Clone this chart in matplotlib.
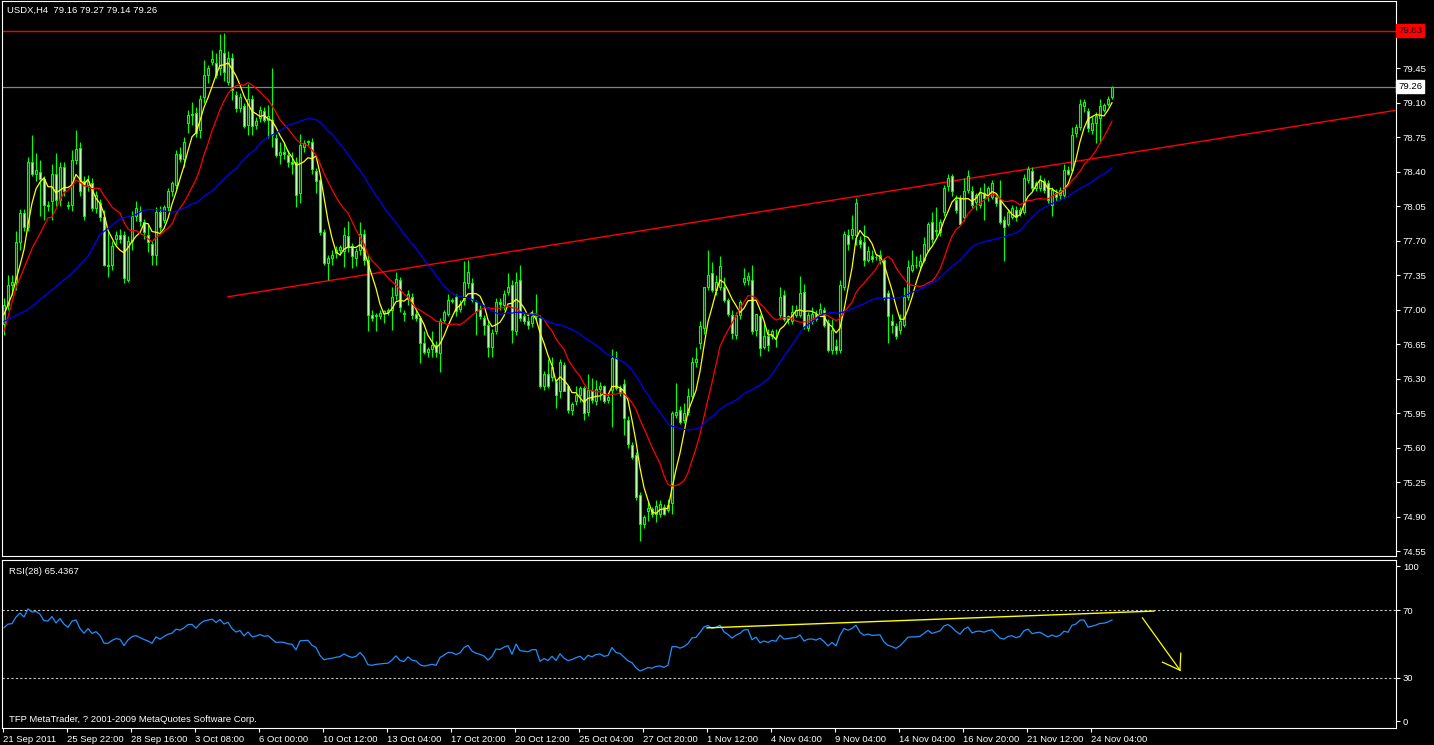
import matplotlib
matplotlib.use("Agg")
import matplotlib.pyplot as plt
import numpy as np
import pandas as pd

# ---------------- data (USDX H4) ----------------
opens = [76.85,77.05,77.25,77.28,77.69,77.98,77.84,78.50,78.38,78.40,
         78.32,78.06,78.10,78.37,78.11,78.45,78.06,78.06,78.52,78.64,
         78.30,78.26,78.28,78.03,78.08,77.94,77.45,77.45,77.72,77.76,
         77.76,77.30,77.70,77.95,78.00,77.89,77.76,77.67,77.55,77.99,
         77.91,78.04,78.20,78.26,78.58,78.53,78.89,78.97,78.99,78.82,
         79.16,79.38,79.51,79.50,79.45,79.60,79.31,79.55,79.18,79.04,
         79.06,78.87,79.14,78.87,78.94,79.01,78.92,78.92,78.74,78.57,
         78.60,78.57,78.50,78.50,78.18,78.65,78.70,78.70,78.41,78.31,
         77.79,77.47,77.52,77.57,77.60,77.59,77.75,77.64,77.52,77.60,
         77.77,77.50,76.95,76.93,76.93,76.97,76.98,77.00,77.15,77.30,
         76.96,77.11,77.13,76.96,76.91,76.66,76.57,76.60,76.64,76.56,
         76.89,76.96,77.10,77.13,77.01,77.10,77.27,77.27,77.08,77.01,
         76.91,76.84,76.62,76.78,77.08,77.05,77.18,77.25,76.78,77.30,
         76.93,76.88,76.86,76.94,76.91,76.22,76.35,76.32,76.27,76.17,
         76.44,76.22,75.98,76.07,76.13,76.20,75.96,76.17,76.07,76.19,
         76.22,76.08,76.18,76.51,76.20,76.25,75.88,75.63,75.53,75.12,
         74.83,74.96,74.98,74.93,74.93,75.00,74.97,75.04,75.93,75.98,
         75.88,75.96,76.12,76.47,76.66,76.81,77.23,77.37,77.20,77.23,
         77.23,77.10,76.95,76.74,76.95,77.28,77.30,77.30,76.79,76.93,
         76.62,76.73,76.73,76.72,76.95,77.15,76.90,76.88,76.95,76.95,
         77.18,76.81,76.88,76.96,76.96,77.00,76.86,76.59,76.63,76.59,
         77.23,77.76,77.76,77.76,77.71,77.69,77.50,77.54,77.53,77.50,
         77.50,77.17,76.88,76.83,76.79,76.84,77.13,77.40,77.45,77.44,
         77.50,77.60,77.89,77.80,77.79,77.99,78.25,78.35,78.11,78.13,
         77.94,78.21,78.20,78.09,78.06,78.18,78.16,78.14,78.14,78.11,
         77.91,77.87,77.94,78.01,77.98,77.99,78.31,78.41,78.23,78.23,
         78.30,78.28,78.06,78.18,78.16,78.16,78.42,78.42,78.79,78.85,
         79.06,79.01,78.82,78.89,78.94,79.02,79.09,79.16]
highs = [77.12,77.35,77.35,77.80,78.02,78.02,78.55,78.77,78.59,78.52,
         78.35,78.10,78.48,78.59,78.50,78.50,78.10,78.62,78.82,78.70,
         78.35,78.36,78.33,78.20,78.12,78.01,77.80,77.70,77.80,77.82,
         77.80,77.75,78.00,78.10,78.05,77.92,77.86,77.70,78.04,78.05,
         78.06,78.23,78.30,78.62,78.65,78.75,79.02,79.11,79.05,79.18,
         79.53,79.48,79.63,79.60,79.79,79.80,79.62,79.60,79.22,79.20,
         79.10,79.29,79.18,78.95,79.06,79.05,79.07,79.45,78.78,78.70,
         78.70,78.62,78.60,78.55,78.78,78.72,78.72,78.74,78.44,78.33,
         77.82,77.55,77.60,77.64,77.66,77.84,77.90,77.68,77.62,77.89,
         77.82,77.55,77.00,76.97,77.00,77.00,77.02,77.23,77.38,77.33,
         77.00,77.20,77.17,77.00,76.94,76.78,76.62,76.78,76.68,76.91,
         77.00,77.16,77.12,77.16,77.10,77.49,77.50,77.32,77.10,77.05,
         76.95,76.88,76.80,77.12,77.12,77.20,77.37,77.30,77.38,77.45,
         76.98,76.94,77.00,77.16,76.95,76.38,76.50,76.52,76.30,76.50,
         76.47,76.24,76.06,76.22,76.22,76.22,76.35,76.31,76.29,76.27,
         76.24,76.13,76.60,76.58,76.24,76.30,75.92,75.66,75.56,75.15,
         74.92,75.05,75.00,75.07,75.07,75.03,75.08,75.97,76.26,76.02,
         76.05,76.20,76.52,76.62,76.88,77.23,77.60,77.48,77.35,77.54,
         77.33,77.12,77.00,76.98,77.10,77.42,77.38,77.45,76.96,76.96,
         76.86,76.80,76.80,76.80,77.23,77.20,76.95,77.05,77.05,77.34,
         77.26,76.98,77.03,77.00,77.07,77.03,76.90,76.90,76.70,77.30,
         77.80,77.82,77.96,78.13,77.75,77.86,77.64,77.60,77.56,77.60,
         77.52,77.20,76.96,76.86,76.96,77.23,77.50,77.60,77.54,77.56,
         77.74,77.89,77.99,78.04,77.92,78.26,78.37,78.38,78.16,78.16,
         78.33,78.42,78.25,78.18,78.24,78.28,78.25,78.31,78.18,78.31,
         77.95,78.02,78.06,78.05,78.04,78.38,78.46,78.45,78.30,78.36,
         78.33,78.31,78.24,78.22,78.24,78.48,78.46,78.85,78.88,79.14,
         79.14,79.04,78.96,79.00,79.14,79.10,79.17,79.27]
lows = [76.74,77.00,77.15,77.20,77.60,77.80,77.80,78.35,78.30,77.95,
        77.91,78.00,77.91,78.05,78.05,78.15,78.02,78.00,78.48,78.15,
        77.91,78.20,78.00,77.98,77.90,77.44,77.33,77.40,77.66,77.68,
        77.27,77.28,77.60,77.90,77.85,77.72,77.58,77.45,77.45,77.80,
        77.88,78.00,78.15,78.22,78.50,78.45,78.79,78.87,78.75,78.74,
        79.10,79.30,79.48,79.35,79.38,79.32,79.28,79.13,79.00,79.00,
        78.84,78.77,78.77,78.83,78.90,78.90,78.74,78.65,78.55,78.48,
        78.53,78.45,78.38,78.04,78.08,78.60,78.66,78.38,78.18,77.76,
        77.45,77.30,77.45,77.52,77.55,77.43,77.58,77.42,77.44,77.55,
        77.45,76.78,76.88,76.78,76.90,76.86,76.95,76.79,77.10,76.98,
        76.88,77.05,76.90,76.88,76.46,76.55,76.52,76.52,76.52,76.37,
        76.86,76.93,77.07,76.93,76.98,77.05,77.22,77.08,76.74,76.90,
        76.74,76.52,76.52,76.75,77.00,77.00,77.15,76.66,76.74,76.88,
        76.85,76.80,76.82,76.88,76.20,76.18,76.20,76.28,76.00,76.10,
        76.20,75.95,75.93,76.03,76.06,75.88,75.92,76.05,76.03,76.08,
        76.05,76.05,75.81,76.18,76.12,75.73,75.60,75.48,75.07,74.65,
        74.78,74.86,74.90,74.85,74.90,74.92,74.95,74.93,75.90,75.84,
        75.85,75.93,76.10,76.42,76.60,76.75,77.20,77.18,77.15,77.20,
        77.08,76.94,76.70,76.70,76.90,77.25,77.25,76.75,76.73,76.53,
        76.60,76.58,76.70,76.62,76.90,76.88,76.85,76.85,76.92,76.92,
        76.80,76.78,76.85,76.88,76.94,76.82,76.57,76.55,76.55,76.56,
        77.20,77.60,77.72,77.65,77.62,77.44,77.48,77.48,77.50,77.46,
        77.10,76.66,76.76,76.70,76.75,76.82,77.10,77.38,77.42,77.40,
        77.48,77.58,77.68,77.75,77.75,77.95,78.20,78.15,77.98,77.86,
        77.90,78.18,78.03,78.01,78.03,77.91,78.10,78.12,78.05,77.87,
        77.49,77.85,77.92,77.90,77.95,77.97,78.28,78.20,78.20,78.20,
        78.18,78.08,77.95,78.10,78.12,78.14,78.36,78.40,78.75,78.82,
        79.00,78.80,78.78,78.69,78.69,79.00,79.06,79.14]
closes = [77.05,77.25,77.28,77.69,77.98,77.84,78.50,78.38,78.42,78.32,
          78.06,78.05,78.38,78.11,78.45,78.20,78.05,78.52,78.63,78.20,
          77.95,78.30,78.03,78.16,77.94,77.45,77.44,77.64,77.76,77.72,
          77.32,77.70,77.95,78.03,77.90,77.79,77.69,77.55,77.99,77.84,
          78.04,78.20,78.28,78.58,78.53,78.70,78.97,78.98,78.79,79.14,
          79.38,79.45,79.54,79.38,79.63,79.41,79.55,79.23,79.04,79.16,
          78.86,79.14,78.86,78.91,79.02,78.92,78.96,78.77,78.57,78.60,
          78.58,78.50,78.48,78.16,78.67,78.69,78.70,78.43,78.30,77.79,
          77.47,77.52,77.55,77.60,77.63,77.76,77.63,77.54,77.59,77.77,
          77.50,76.95,76.91,76.95,76.97,76.99,77.00,77.13,77.31,77.03,
          76.96,77.16,76.95,76.91,76.66,76.57,76.60,76.64,76.57,76.88,
          76.98,77.10,77.09,76.99,77.06,77.28,77.38,77.10,76.99,76.93,
          76.84,76.62,76.76,77.08,77.06,77.16,77.23,76.79,77.28,76.91,
          76.88,76.84,76.94,76.95,76.22,76.35,76.22,76.42,76.13,76.47,
          76.17,75.98,76.04,76.13,76.20,75.95,76.18,76.08,76.19,76.22,
          76.07,76.11,76.51,76.20,76.15,75.90,75.64,75.51,75.10,74.83,
          74.90,74.99,74.93,75.01,75.03,74.93,75.02,75.95,75.96,75.86,
          75.95,76.12,76.47,76.50,76.83,77.23,77.35,77.20,77.28,77.44,
          77.10,76.96,76.76,76.95,77.08,77.32,77.34,76.78,76.96,76.61,
          76.73,76.64,76.78,76.72,77.13,76.90,76.93,76.98,77.00,77.17,
          76.83,76.95,76.96,76.90,77.01,76.84,76.59,76.79,76.59,77.25,
          77.77,77.67,77.82,78.08,77.67,77.50,77.59,77.51,77.53,77.55,
          77.13,76.93,76.84,76.73,76.88,77.13,77.43,77.45,77.45,77.49,
          77.67,77.87,77.72,77.80,77.89,78.23,78.33,78.20,78.01,77.87,
          78.20,78.35,78.06,78.16,78.18,78.13,78.23,78.28,78.08,77.89,
          77.84,77.99,78.03,77.94,78.01,78.33,78.43,78.23,78.28,78.31,
          78.21,78.11,78.21,78.14,78.21,78.42,78.38,78.77,78.85,79.09,
          79.11,78.84,78.89,78.96,79.06,79.07,79.14,79.26]

# moving-average lines before enough bars exist
yellow_head_x = [0, 2]
yellow_head_y = [76.95, 77.15]
red_head_x = [0, 3, 5, 7, 9, 11]
red_head_y = [76.78, 77.22, 77.42, 77.62, 77.77, 77.93]
blue_head_x = [0, 6, 12, 17, 21, 24, 29]
blue_head_y = [76.88, 77.00, 77.20, 77.37, 77.54, 77.76, 77.92]

price_ticks = [79.45, 79.10, 78.75, 78.40, 78.05, 77.70, 77.35, 77.00,
               76.65, 76.30, 75.95, 75.60, 75.25, 74.90, 74.55]
time_labels = ["21 Sep 2011", "25 Sep 22:00", "28 Sep 16:00", "3 Oct 08:00",
               "6 Oct 00:00", "10 Oct 12:00", "13 Oct 04:00", "17 Oct 20:00",
               "20 Oct 12:00", "25 Oct 04:00", "27 Oct 20:00", "1 Nov 12:00",
               "4 Nov 04:00", "9 Nov 04:00", "14 Nov 04:00", "16 Nov 20:00",
               "21 Nov 12:00", "24 Nov 04:00"]
resistance_level = 79.83
bid_price = 79.26
trend_pts = ([56, 347.75], [77.13, 79.02])          # drawn red trendline
rsi_trend = ([175.75, 287.5], [59.6, 69.6])         # drawn yellow RSI line
rsi_arrow = ([284.6, 294.0], [65.6, 34.4])
rsi_arrow_head1 = ([289.6, 294.0], [39.2, 34.4])
rsi_arrow_head2 = ([294.2, 294.0], [44.6, 34.4])
rsi_period = 28
rsi_seed_gain, rsi_seed_loss = 0.080, 0.054

# ---------------- figure ----------------
W, H = 1434, 745
FONT = "Liberation Sans"
FS = 6.8
plt.rcParams["font.family"] = [FONT, "DejaVu Sans"]
fig = plt.figure(figsize=(W / 100, H / 100), dpi=100, facecolor="black")


def px_axes(l, t, r, b):
    return fig.add_axes([l / W, 1 - b / H, (r - l) / W, (b - t) / H])


ax = px_axes(2, 1, 1396, 556)
ax2 = px_axes(2, 560, 1396, 728)
for a in (ax, ax2):
    a.set_facecolor("black")
    for s in a.spines.values():
        s.set_color("white")
        s.set_linewidth(0.8)
    a.set_xlim(-0.5, 348)

o = np.array(opens); h = np.array(highs); l = np.array(lows); c = np.array(closes)
idx = np.arange(len(c))
LIME = "#00ff00"

# wicks
ax.vlines(idx, l, h, color=LIME, lw=0.85, zorder=3)
# bodies
bull = c >= o
bot = np.minimum(o, c)
hgt = np.maximum(np.abs(c - o), 0.005)
ax.bar(idx[bull], hgt[bull], bottom=bot[bull], width=0.72, facecolor="#0a3a0a",
       edgecolor=LIME, linewidth=0.8, zorder=4)
ax.bar(idx[~bull], hgt[~bull], bottom=bot[~bull], width=0.72, facecolor="#d8ffc8",
       edgecolor=LIME, linewidth=0.8, zorder=4)

# moving averages
cs = pd.Series(c)
for n, hx, hy, col in [(5, yellow_head_x, yellow_head_y, "#ffff00"),
                       (13, red_head_x, red_head_y, "#ff0000"),
                       (34, blue_head_x, blue_head_y, "#0000ff")]:
    ma = cs.rolling(n).mean().to_numpy()
    xs = list(hx) + list(idx[n - 1:])
    ys = list(hy) + list(ma[n - 1:])
    ax.plot(xs, ys, color=col, lw=0.9, zorder=5)

ax.axhline(resistance_level, color="#ff0000", lw=1.0, zorder=2)
ax.axhline(bid_price, color="#7d8494", lw=0.9, zorder=2)
ax.plot(trend_pts[0], trend_pts[1], color="#ff0000", lw=1.0, zorder=2)

ax.set_ylim(74.501, 79.45 + 67 / 98.6)
ax.yaxis.tick_right()
ax.set_yticks(price_ticks)
ax.set_yticklabels([f"{v:.2f}" for v in price_ticks])
ax.tick_params(axis="y", colors="white", labelsize=FS, length=3, width=0.8, pad=2)
ax.set_xticks([])

# right-side price boxes
ax.text(1.0015, resistance_level, f"{resistance_level:.2f}", transform=ax.get_yaxis_transform(),
        ha="left", va="center", fontsize=FS, color="black",
        bbox=dict(boxstyle="square,pad=0.2", fc="#ff0000", ec="#ff0000"))
ax.text(1.0015, bid_price, f"{bid_price:.2f}", transform=ax.get_yaxis_transform(),
        ha="left", va="center", fontsize=FS, color="black",
        bbox=dict(boxstyle="square,pad=0.2", fc="white", ec="white"))

fig.text(7 / W, 1 - 10.5 / H, "USDX,H4  79.16 79.27 79.14 79.26", color="white",
         fontsize=FS, ha="left", va="center")

# ---------------- RSI ----------------
g, ls = rsi_seed_gain, rsi_seed_loss
rsi = [100 * g / (g + ls)]
for i in range(1, len(c)):
    d = c[i] - c[i - 1]
    g = (g * (rsi_period - 1) + max(d, 0)) / rsi_period
    ls = (ls * (rsi_period - 1) + max(-d, 0)) / rsi_period
    rsi.append(100 * g / (g + ls))
rsi = np.array(rsi)

ax2.plot(idx, rsi, color="#1e90ff", lw=0.9, zorder=4)
for lvl in (70, 30):
    ax2.axhline(lvl, color="#c8c8c8", lw=0.8, ls=(0, (2, 2)), zorder=2)
ax2.plot(rsi_trend[0], rsi_trend[1], color="#ffff00", lw=1.0, zorder=5)
for seg in (rsi_arrow, rsi_arrow_head1, rsi_arrow_head2):
    ax2.plot(seg[0], seg[1], color="#ffff00", lw=0.9, zorder=5)
ax2.set_ylim(0, 100)
ax2.yaxis.tick_right()
ax2.set_yticks([96.4, 70, 30, 4])
ax2.set_yticklabels(["100", "70", "30", "0"])
ax2.tick_params(axis="y", colors="white", labelsize=FS, length=3, width=0.8, pad=2)
ax2.set_xticks([16 * k - 0.25 for k in range(len(time_labels))])
ax2.set_xticklabels(time_labels)
ax2.tick_params(axis="x", colors="white", labelsize=FS, length=3, width=0.8, pad=2)
for t in ax2.get_xticklabels():
    t.set_ha("left")

ax2.text(7 / 1394, 1 - 11 / 168, f"RSI({rsi_period}) 65.4367", transform=ax2.transAxes,
         color="white", fontsize=FS, ha="left", va="center")
ax2.text(7 / 1394, 1 - 159 / 168, "TFP MetaTrader, ? 2001-2009 MetaQuotes Software Corp.",
         transform=ax2.transAxes, color="white", fontsize=FS, ha="left", va="center")

fig.savefig("out.png", dpi=100, facecolor="black")
